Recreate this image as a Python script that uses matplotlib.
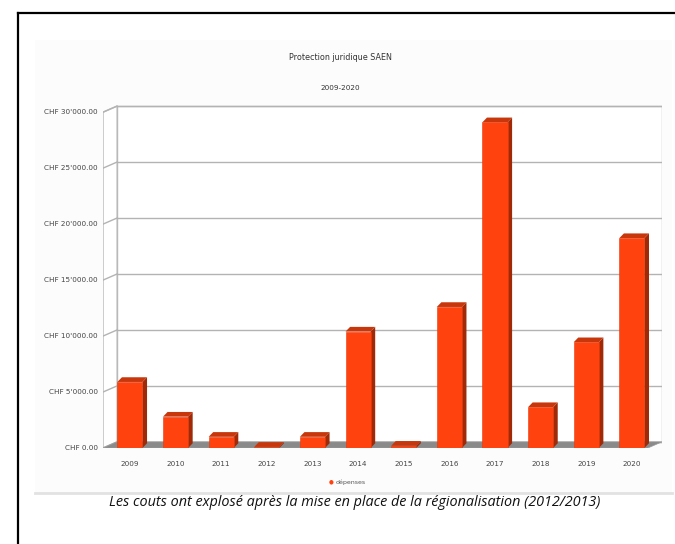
import matplotlib.pyplot as plt
from matplotlib.patches import Polygon, Rectangle
from matplotlib.lines import Line2D

# Données
annees = ['2009', '2010', '2011', '2012', '2013', '2014', '2015', '2016', '2017', '2018', '2019', '2020']
depenses = [5900, 2800, 1000, 100, 1000, 10400, 200, 12600, 29100, 3650, 9450, 18750]
graduations = [0, 5000, 10000, 15000, 20000, 25000, 30000]
etiquettes = ['CHF 0.00', "CHF 5'000.00", "CHF 10'000.00", "CHF 15'000.00",
              "CHF 20'000.00", "CHF 25'000.00", "CHF 30'000.00"]

W, H = 675, 544
fig = plt.figure(figsize=(6.75, 5.44), dpi=100)
fig.patch.set_facecolor('white')

# fond gris très clair de l'image collée
fond = fig.add_axes([35 / W, 1 - 493 / H, (672 - 35) / W, (493 - 40) / H])
fond.set_facecolor('#fcfcfc')
fond.set_xticks([])
fond.set_yticks([])
for s in fond.spines.values():
    s.set_visible(False)

# cadre noir (gauche + haut)
fig.add_artist(Line2D([18 / W, 18 / W], [0, 1 - 13 / H], color='black', lw=1.6))
fig.add_artist(Line2D([18 / W, 1], [1 - 13 / H, 1 - 13 / H], color='black', lw=1.6))
# ligne sous le graphique
fig.add_artist(Line2D([35 / W, 672 / W], [1 - 493 / H, 1 - 493 / H], color='#e2e2e2', lw=2))

# axe principal (coordonnées données)
ax = fig.add_axes([103 / W, 1 - 448 / H, (662 - 103) / W, (448 - 101) / H])
x0, x1 = -0.59, 11.66
ax.set_xlim(x0, x1)
ax.set_ylim(0, 31000)
ax.axis('off')

dxw, dyw = 0.31, 550  # profondeur des parois
# paroi du fond
ax.add_patch(Rectangle((x0 + dxw, dyw), x1 - x0 - dxw, 30000, facecolor='white',
                       edgecolor='#b8b8b8', lw=1.0, zorder=1))
# paroi gauche
ax.add_patch(Polygon([(x0, 0), (x0 + dxw, dyw), (x0 + dxw, 30000 + dyw), (x0, 30000)],
                     closed=True, facecolor='white', edgecolor='#b8b8b8', lw=1.0, zorder=1))
for g, lab in zip(graduations, etiquettes):
    ax.plot([x0 + dxw, x1], [g + dyw, g + dyw], color='#b3b3b3', lw=1.0, zorder=1.5)
    ax.plot([x0, x0 + dxw], [g, g + dyw], color='#b3b3b3', lw=1.0, zorder=1.5)
    ax.text(x0 - 0.12, g, lab, ha='right', va='center', fontsize=5.2, color='#444444')

# sol
ax.add_patch(Polygon([(x0, 0), (x1 - dxw, 0), (x1, dyw), (x0 + dxw, dyw)], closed=True,
                     facecolor='#8a8a8a', edgecolor='#9a9a9a', lw=0.5, zorder=2))

# barres 3D
larg = 0.55
bx, by = 0.1, 420
for i, v in enumerate(depenses):
    g = i - larg / 2
    d = i + larg / 2
    ax.add_patch(Polygon([(d, 0), (d + bx, by), (d + bx, v + by), (d, v)], closed=True,
                         facecolor='#a02a08', edgecolor='none', zorder=3))
    ax.add_patch(Polygon([(g, v), (g + bx, v + by), (d + bx, v + by), (d, v)], closed=True,
                         facecolor='#c8360b', edgecolor='none', zorder=3))
    ax.add_patch(Rectangle((g, 0), larg, v, facecolor='#ff420e', edgecolor='#e23a0c',
                           lw=0.4, zorder=4))
    ax.text(i, -1200, annees[i], ha='center', va='top', fontsize=5.2, color='#444444')

# titres
fig.text(340 / W, 1 - 58 / H, 'Protection juridique SAEN', ha='center', va='center',
         fontsize=5.8, color='#333333')
fig.text(340 / W, 1 - 88 / H, '2009-2020', ha='center', va='center',
         fontsize=5.2, color='#333333')

# légende
fig.text(331 / W, 1 - 482 / H, '●', ha='center', va='center', fontsize=4, color='#ff420e')
fig.text(336 / W, 1 - 482 / H, 'dépenses', ha='left', va='center', fontsize=4.5, color='#555555')

# légende du document
fig.text(355 / W, 1 - 503 / H,
         'Les couts ont explosé après la mise en place de la régionalisation (2012/2013)',
         ha='center', va='center', fontsize=10.4, style='italic', color='#111111',
         family='Open Sans')

fig.savefig('out.png', dpi=100)
